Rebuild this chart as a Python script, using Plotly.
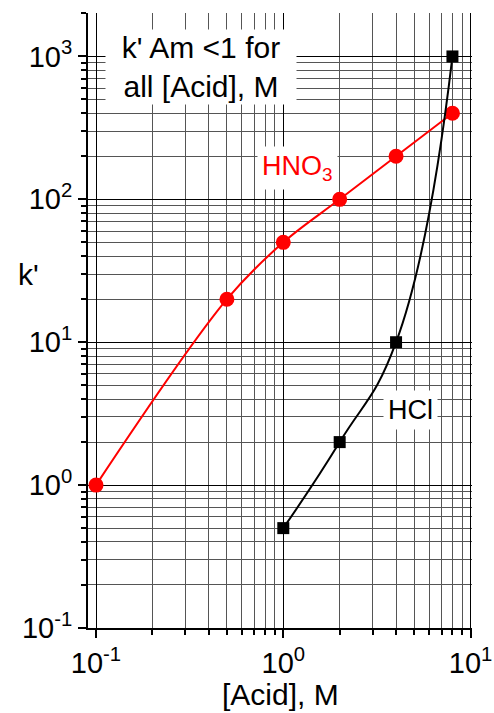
import plotly.graph_objects as go

# data
acid_hno3 = [0.1, 0.5, 1, 2, 4, 8]
k_hno3 = [1, 20, 50, 100, 200, 400]
acid_hcl = [1, 2, 4, 8]
k_hcl = [0.5, 2, 10, 1000]

x_tickvals = [0.1, 1, 10]
x_ticktext = ["10<sup>-1</sup>", "10<sup>0</sup>", "10<sup>1</sup>"]
y_tickvals = [0.1, 1, 10, 100, 1000]
y_ticktext = ["10<sup>-1</sup>", "10<sup>0</sup>", "10<sup>1</sup>", "10<sup>2</sup>", "10<sup>3</sup>"]

FONT = "Arial, Liberation Sans, sans-serif"
XR = [-1.0427, 1.0075]
YR = [-1.0, 3.304]

fig = go.Figure()
fig.add_trace(go.Scatter(
    x=acid_hno3, y=k_hno3, mode="lines+markers",
    line=dict(color="#ff0000", width=2, shape="spline", smoothing=1.0),
    marker=dict(symbol="circle", size=15, color="#ff0000"),
    showlegend=False))
fig.add_trace(go.Scatter(
    x=acid_hcl, y=k_hcl, mode="lines+markers",
    line=dict(color="#000000", width=2, shape="spline", smoothing=1.3),
    marker=dict(symbol="square", size=12, color="#000000"),
    showlegend=False))

axis_common = dict(
    type="log", showline=True, linecolor="black", linewidth=2, automargin=False,
    ticks="outside", ticklen=8, tickwidth=1.5, tickcolor="black",
    showgrid=True, gridcolor="black", gridwidth=1,
    zeroline=False, tickmode="array",
    tickfont=dict(family=FONT, size=29, color="black"),
    minor=dict(dtick="D1", ticks="outside", ticklen=5, tickwidth=1.5,
               tickcolor="black", showgrid=True, gridcolor="#555555", gridwidth=1),
)

fig.update_layout(
    width=494, height=713,
    margin=dict(l=88, r=22, t=13, b=85),
    plot_bgcolor="white", paper_bgcolor="white",
    font=dict(family=FONT, color="black"),
    xaxis=dict(range=XR, tickvals=x_tickvals, ticktext=x_ticktext, **axis_common),
    yaxis=dict(range=YR, tickvals=y_tickvals, ticktext=y_ticktext, **axis_common),
    xaxis2=dict(type="log", range=XR, overlaying="x", side="top", anchor="y", automargin=False,
                showline=True, linecolor="black", linewidth=2,
                ticks="inside", ticklen=8, tickwidth=1.5, tickmode="array",
                tickvals=x_tickvals, showticklabels=False, showgrid=False, zeroline=False,
                minor=dict(dtick="D1", ticks="inside", ticklen=5, tickwidth=1.5, showgrid=False)),
    yaxis2=dict(type="log", range=YR, overlaying="y", side="right", anchor="x", automargin=False,
                showline=True, linecolor="black", linewidth=2,
                ticks="inside", ticklen=8, tickwidth=1.5, tickmode="array",
                tickvals=y_tickvals, showticklabels=False, showgrid=False, zeroline=False,
                minor=dict(dtick="D1", ticks="inside", ticklen=5, tickwidth=1.5, showgrid=False)),
)

fig.add_annotation(xref="paper", yref="paper", x=(201 - 88) / 384, y=(628 - 68) / 614.4,
                   text="k' Am <1 for<br>all [Acid], M", showarrow=False,
                   font=dict(family=FONT, size=30, color="black"),
                   bgcolor="white", borderpad=1, width=188,
                   xanchor="center", yanchor="middle")
fig.add_annotation(xref="paper", yref="paper", x=(297 - 88) / 384, y=(628 - 168) / 614.4,
                   text="HNO<sub>3</sub>", showarrow=False,
                   font=dict(family=FONT, size=27, color="#ff0000"),
                   bgcolor="white", borderpad=4, xanchor="center", yanchor="middle")
fig.add_annotation(xref="paper", yref="paper", x=(410 - 88) / 384, y=(628 - 410) / 614.4,
                   text="HCl", showarrow=False,
                   font=dict(family=FONT, size=27, color="black"),
                   bgcolor="white", borderpad=4, xanchor="center", yanchor="middle")
fig.add_annotation(xref="paper", yref="paper", x=(28 - 88) / 384, y=(628 - 275) / 614.4,
                   text="k'", showarrow=False,
                   font=dict(family=FONT, size=30, color="black"),
                   xanchor="center", yanchor="middle")
fig.add_annotation(xref="paper", yref="paper", x=(280 - 88) / 384, y=(628 - 694) / 614.4,
                   text="[Acid], M", showarrow=False,
                   font=dict(family=FONT, size=30, color="black"),
                   xanchor="center", yanchor="middle")

fig.write_html("out.html", post_script="document.body.style.margin='0';",
               config={"displayModeBar": False})
